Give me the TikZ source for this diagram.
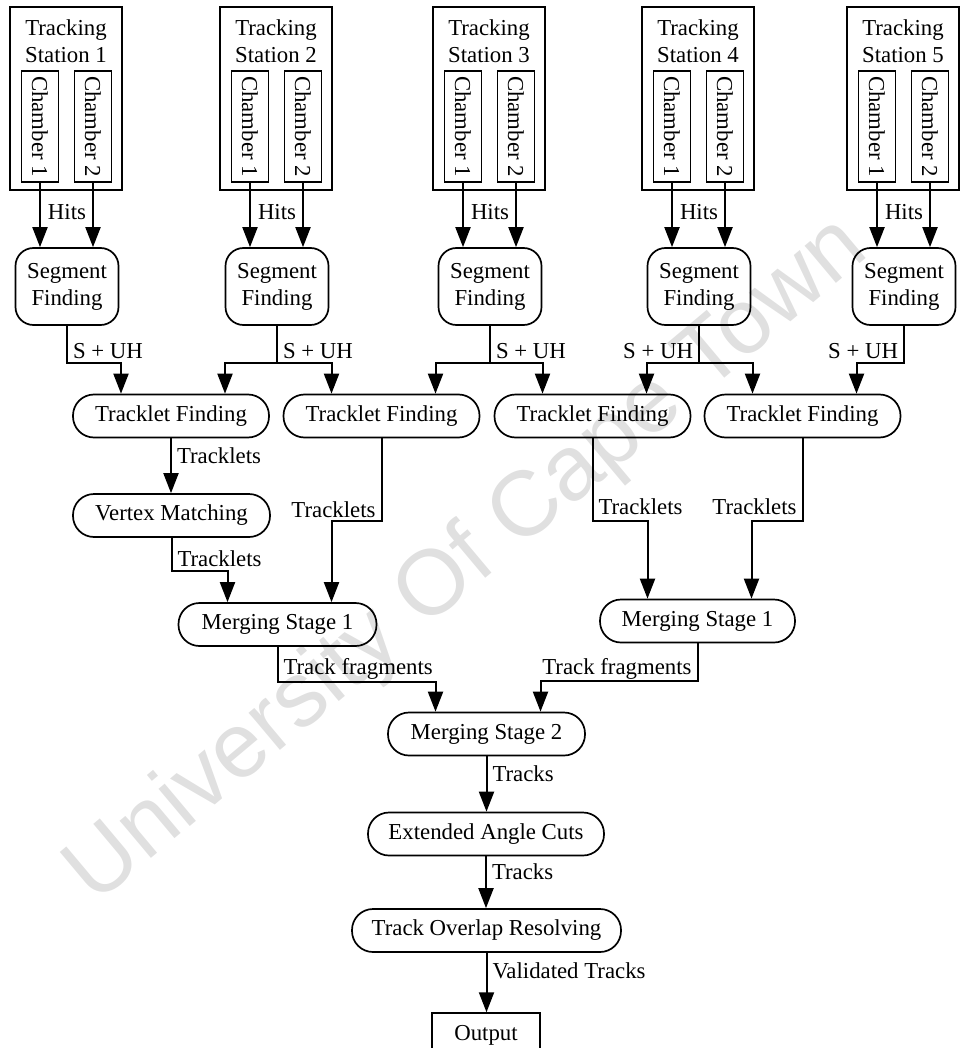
\documentclass[tikz,border=0pt]{standalone}
\usepackage{fontspec}
\setmainfont{Liberation Serif}
\newfontfamily\wmfont{Liberation Sans}
\usetikzlibrary{arrows.meta}

\tikzset{
  station/.style={draw, line width=0.75pt, minimum width=56pt, minimum height=91.5pt, inner sep=0pt},
  chamber/.style={draw, line width=0.75pt, rotate=-90, minimum width=55.5pt, minimum height=18.5pt, inner sep=0pt},
  segbox/.style={draw, line width=0.85pt, rounded corners=9pt, minimum width=51.5pt, minimum height=38.5pt, align=center, inner sep=0pt},
  stage/.style={draw, line width=0.85pt, rounded corners=10.5pt, minimum height=21.5pt, inner sep=0pt},
  lbl/.style={inner sep=2.5pt},
  flow/.style={->, line width=1pt},
  wmark/.style={text=black!12, font=\wmfont\fontsize{46}{46}\selectfont, rotate=40, inner sep=0pt},
}

\begin{document}
\begin{tikzpicture}[x=0.5pt, y=-0.5pt, >={Triangle[length=10pt,width=7.5pt]}, font=\fontsize{11.4}{13.5}\selectfont]
\useasboundingbox (0,0) rectangle (959,1048);

% watermark
\node[wmark] (wm) at (468,562) {University Of Cape Town};

% tracking stations, chambers and segment finding
\foreach \i/\cx in {1/66,2/276,3/489,4/698,5/903} {
  \node[station] (st\i) at (\cx,98.5) {};
  \node[align=center] (tt\i) at (\cx,41) {Tracking\\Station \i};
  \node[chamber] (ca\i) at (\cx-26,126.5) {Chamber 1};
  \node[chamber] (cb\i) at (\cx+27,126.5) {Chamber 2};
  \node[segbox] (sf\i) at (\cx+1,286.5) {Segment\\Finding};
  \node (hits\i) at (\cx+1,212) {Hits};
  \draw[flow] (ca\i.east) -- (ca\i.east |- sf\i.north);
  \draw[flow] (cb\i.east) -- (cb\i.east |- sf\i.north);
}

% tracklet finding
\node[stage, minimum width=98pt] (tf1) at (171,416) {Tracklet Finding};
\node[stage, minimum width=98pt] (tf2) at (381.5,416) {Tracklet Finding};
\node[stage, minimum width=98pt] (tf3) at (592.5,416) {Tracklet Finding};
\node[stage, minimum width=98pt] (tf4) at (802.5,416) {Tracklet Finding};

\draw[flow] (sf1.south) -- ++(0,37) node[lbl,right,pos=0.68] (su1) {S + UH} -| ([xshift=-25pt]tf1.north);
\draw[flow] (sf2.south) -- ++(0,37) node[lbl,right,pos=0.68] (su2) {S + UH} -| ([xshift=-25pt]tf2.north);
\draw[flow] (sf2.south) -- ++(0,37) -| ([xshift=27pt]tf1.north);
\draw[flow] (sf3.south) -- ++(0,37) node[lbl,right,pos=0.68] (su3) {S + UH} -| ([xshift=-25pt]tf3.north);
\draw[flow] (sf3.south) -- ++(0,37) -| ([xshift=27pt]tf2.north);
\draw[flow] (sf4.south) -- ++(0,37) node[lbl,left,pos=0.68] (su4) {S + UH} -| ([xshift=-25pt]tf4.north);
\draw[flow] (sf4.south) -- ++(0,37) -| ([xshift=27pt]tf3.north);
\draw[flow] (sf5.south) -- ++(0,37) node[lbl,left,pos=0.68] (su5) {S + UH} -| ([xshift=27pt]tf4.north);

% vertex matching and first merging
\node[stage, minimum width=98.5pt] (vm) at (171.5,515.5) {Vertex Matching};
\node[stage, minimum width=99pt] (msa) at (277.5,624.5) {Merging Stage 1};
\node[stage, minimum width=97.5pt] (msb) at (697.5,621) {Merging Stage 1};

\draw[flow] (tf1.south) -- node[lbl,right,pos=0.32] (tl1) {Tracklets} (tf1.south |- vm.north);
\draw[flow] (vm.south) -- ++(0,33) node[lbl,right,pos=0.64] (tl2) {Tracklets} -| ([xshift=-25pt]msa.north);
\draw[flow] (tf2.south) -- ++(0,83) node[lbl,left,pos=0.855] (tl3) {Tracklets} -| ([xshift=27pt]msa.north);
\draw[flow] (tf3.south) -- ++(0,83) node[lbl,right,pos=0.82] (tl4) {Tracklets} -| ([xshift=-25pt]msb.north);
\draw[flow] (tf4.south) -- ++(0,83) node[lbl,left,pos=0.82] (tl5) {Tracklets} -| ([xshift=27pt]msb.north);

% second merging and final steps
\node[stage, minimum width=98.5pt] (ms2) at (486.5,734) {Merging Stage 2};
\node[stage, minimum width=118pt] (eac) at (486,834) {Extended Angle Cuts};
\node[stage, minimum width=134.5pt] (tor) at (486.5,930.5) {Track Overlap Resolving};
\node[draw, line width=0.75pt, minimum width=54pt, minimum height=22pt] (out) at (486,1035) {Output};

\draw[flow] (msa.south) -- ++(0,35) node[lbl,right,pos=0.63] (tfr1) {Track fragments} -| ([xshift=-25.5pt]ms2.north);
\draw[flow] (msb.south) -- ++(0,38) node[lbl,left,pos=0.66] (tfr2) {Track fragments} -| ([xshift=27pt]ms2.north);
\draw[flow] (ms2.south) -- node[lbl,right,pos=0.32] (trk1) {Tracks} (ms2.south |- eac.north);
\draw[flow] (eac.south) -- node[lbl,right,pos=0.3] (trk2) {Tracks} (eac.south |- tor.north);
\draw[flow] (tor.south) -- node[lbl,right,pos=0.3] (vtr) {Validated Tracks} (tor.south |- out.north);
\end{tikzpicture}
\end{document}
